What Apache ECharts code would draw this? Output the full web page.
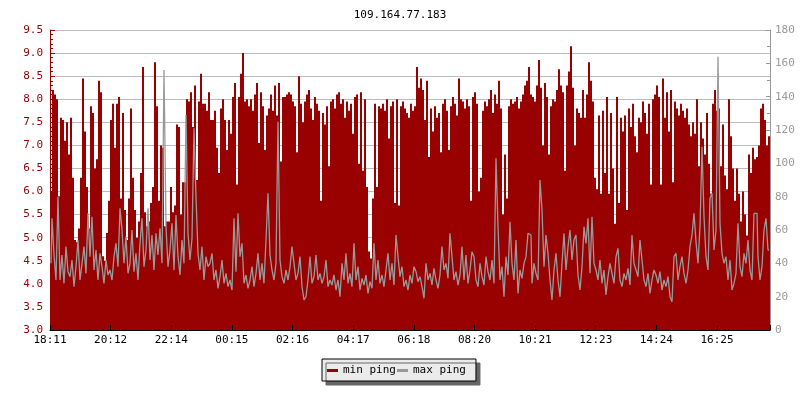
<!DOCTYPE html>
<html>
<head>
<meta charset="utf-8">
<script src="https://cdn.jsdelivr.net/npm/echarts@6/dist/echarts.min.js"></script>
<style>html,body{margin:0;padding:0;background:#fff}#c{width:800px;height:400px}</style>
</head>
<body>
<div id="c"></div>
<script>
// Tick labels of the time axis (start 18:11, one label about every 121 min)
const TIME_LABELS = ['18:11','20:12','22:14','00:15','02:16','04:17','06:18','08:20','10:21','12:23','14:24','16:25'];
const SPAN_MINUTES = 1440;
const LABEL_STEP = 1334 / 11;

// min ping (ms, left axis) — one sample every 4 minutes
const MIN_PING = [
 6.0, 8.2, 8.1, 8.0, 5.9, 7.6, 7.55, 7.1, 7.5, 6.8,
 7.6, 6.3, 4.95, 4.9, 5.2, 6.3, 8.45, 7.3, 6.1, 5.2,
 7.85, 7.7, 6.5, 6.7, 8.4, 8.15, 4.6, 4.5, 5.1, 5.8,
 7.55, 7.9, 6.95, 7.9, 8.05, 5.85, 7.7, 5.6, 4.95, 5.85,
 7.8, 6.3, 5.6, 5.0, 5.35, 6.4, 8.7, 5.55, 5.25, 5.35,
 5.75, 6.1, 8.8, 7.85, 5.8, 7.0, 6.95, 5.25, 5.35, 5.35,
 6.1, 5.55, 5.7, 7.45, 7.4, 5.5, 6.2, 6.2, 8.0, 7.95,
 8.15, 7.4, 8.3, 6.25, 7.95, 8.55, 7.9, 7.9, 7.75, 8.15,
 7.55, 7.55, 7.75, 6.95, 6.4, 7.8, 8.0, 7.55, 6.9, 7.55,
 7.25, 8.05, 8.35, 6.15, 8.05, 8.55, 9.0, 7.95, 8.0, 7.85,
 8.0, 7.75, 8.1, 8.35, 7.05, 8.15, 7.85, 6.9, 7.65, 7.8,
 8.1, 7.75, 8.3, 7.65, 8.35, 6.65, 8.05, 8.05, 8.1, 8.15,
 8.1, 7.95, 7.85, 6.85, 8.5, 7.9, 7.5, 7.95, 8.1, 8.2,
 7.8, 7.55, 8.05, 7.9, 7.75, 5.8, 7.7, 7.45, 7.85, 6.55,
 7.95, 8.0, 7.8, 8.1, 8.15, 7.9, 8.0, 7.6, 7.95, 7.75,
 7.9, 7.25, 8.05, 8.1, 6.6, 8.15, 6.45, 8.0, 6.1, 4.7,
 4.55, 5.85, 7.9, 6.1, 7.85, 7.8, 7.9, 7.75, 8.0, 7.15,
 7.85, 7.95, 5.75, 8.0, 5.7, 7.85, 7.95, 7.8, 7.7, 7.6,
 7.9, 7.75, 7.85, 8.7, 8.25, 8.45, 8.2, 7.55, 8.4, 6.75,
 7.8, 7.3, 7.85, 7.6, 7.7, 6.85, 7.9, 8.0, 7.75, 6.9,
 7.85, 8.05, 7.9, 7.65, 8.45, 8.0, 7.95, 7.8, 8.0, 7.85,
 5.8, 8.05, 8.15, 7.9, 6.0, 6.3, 7.75, 7.95, 7.85, 8.0,
 8.2, 7.7, 8.1, 7.9, 8.4, 7.8, 5.5, 6.8, 5.85, 7.85,
 8.0, 7.9, 7.95, 8.05, 7.8, 7.95, 8.1, 8.3, 8.4, 8.7,
 8.1, 8.05, 7.95, 8.3, 8.85, 8.25, 7.0, 8.35, 8.05, 6.8,
 7.85, 8.0, 7.95, 8.2, 8.65, 8.3, 8.15, 6.45, 8.3, 8.6,
 9.15, 8.25, 7.0, 7.8, 7.7, 7.6, 8.2, 7.6, 8.1, 8.8,
 8.4, 7.95, 6.3, 6.05, 7.65, 5.95, 7.75, 6.4, 8.05, 5.95,
 7.7, 6.5, 5.3, 8.05, 5.75, 7.6, 7.3, 7.65, 5.6, 7.8,
 7.4, 7.9, 7.2, 6.85, 7.6, 7.5, 7.95, 7.7, 7.25, 7.9,
 6.15, 8.0, 8.1, 8.3, 8.05, 6.15, 8.45, 7.6, 8.15, 7.3,
 8.2, 6.2, 7.95, 7.8, 7.65, 7.9, 7.75, 7.6, 7.8, 7.45,
 7.2, 7.5, 7.25, 8.0, 6.55, 7.5, 7.15, 6.8, 7.7, 6.6,
 5.95, 7.9, 8.2, 7.75, 7.8, 6.55, 7.45, 6.35, 6.05, 8.0,
 7.2, 6.5, 5.8, 6.5, 5.95, 5.35, 6.0, 5.5, 5.05, 6.8,
 6.4, 6.95, 6.7, 6.75, 7.0, 7.8, 7.9, 7.55, 7.0, 7.2
];

// max ping (ms, right axis)
const MAX_PING = [
 40, 67, 45, 30, 80, 30, 45, 28, 50, 35,
 32, 42, 26, 38, 54, 30, 40, 50, 34, 70,
 44, 68, 36, 48, 30, 46, 38, 28, 42, 33,
 36, 30, 44, 52, 38, 73, 60, 40, 56, 34,
 40, 60, 35, 46, 30, 52, 67, 38, 48, 73,
 42, 57, 36, 58, 45, 61, 40, 156, 62, 38,
 48, 64, 36, 69, 44, 33, 54, 40, 129, 58,
 42, 55, 121, 80, 46, 36, 50, 30, 44, 38,
 40, 46, 30, 36, 25, 32, 42, 28, 34, 26,
 30, 24, 67, 35, 70, 44, 52, 28, 33, 25,
 30, 38, 26, 34, 46, 30, 40, 28, 54, 82,
 45, 36, 30, 40, 125, 42, 32, 28, 36, 30,
 38, 50, 40, 30, 34, 44, 26, 18, 20, 30,
 44, 28, 32, 45, 30, 34, 28, 32, 42, 26,
 30, 27, 33, 24, 30, 20, 40, 30, 46, 28,
 34, 26, 52, 30, 38, 24, 31, 27, 33, 22,
 29, 25, 52, 30, 42, 28, 33, 26, 36, 46,
 30, 40, 27, 57, 44, 32, 38, 26, 30, 24,
 33, 28, 38, 35, 29, 32, 26, 19, 40, 30,
 34, 27, 37, 30, 25, 33, 50, 36, 40, 31,
 58, 44, 30, 35, 27, 33, 50, 30, 45, 28,
 36, 47, 44, 30, 26, 40, 32, 27, 44, 35,
 30, 42, 28, 103, 62, 30, 38, 20, 44, 33,
 65, 40, 30, 54, 22, 36, 31, 40, 44, 58,
 57, 28, 40, 34, 30, 90, 72, 38, 57, 46,
 30, 18, 36, 46, 30, 20, 40, 58, 36, 50,
 60, 42, 54, 57, 33, 24, 38, 62, 52, 67,
 34, 68, 40, 36, 30, 42, 28, 36, 21, 32,
 40, 34, 28, 44, 49, 30, 26, 34, 30, 37,
 27, 57, 40, 36, 32, 54, 42, 30, 26, 34,
 22, 30, 36, 33, 28, 35, 24, 30, 26, 32,
 20, 17, 44, 46, 30, 38, 44, 34, 28, 36,
 50, 57, 70, 53, 40, 62, 110, 68, 44, 36,
 79, 82, 48, 60, 164, 64, 46, 40, 44, 30,
 42, 24, 28, 34, 64, 38, 32, 46, 40, 54,
 36, 30, 70, 70, 44, 30, 38, 60, 67, 48
];

const SERIES_NAMES = ['min ping', 'max ping'];
const TITLE = '109.164.77.183';

const FONT = 'DejaVu Sans Mono';
const RED = '#990000';
const GRAY = '#999999';

const categories = MIN_PING.map((_, i) => i);

const chart = echarts.init(document.getElementById('c'), null, {renderer: 'canvas'});
chart.setOption({
  animation: false,
  backgroundColor: '#fff',
  title: {
    text: TITLE, left: 'center', top: 5,
    textStyle: {fontFamily: FONT, fontSize: 11, fontWeight: 'normal', color: '#000'}
  },
  legend: {
    data: [
      {name: SERIES_NAMES[0], itemStyle: {color: RED}},
      {name: SERIES_NAMES[1], itemStyle: {color: GRAY}}
    ],
    left: 322, top: 359,
    icon: 'rect', itemWidth: 11, itemHeight: 3, itemGap: 1,
    padding: [6, 10, 5, 5],
    backgroundColor: '#ebebeb', borderColor: '#000', borderWidth: 1,
    shadowColor: '#666', shadowBlur: 0, shadowOffsetX: 4, shadowOffsetY: 4,
    textStyle: {fontFamily: FONT, fontSize: 11, color: '#000'}
  },
  grid: {left: 50, right: 30, top: 30, bottom: 70, containLabel: false},
  xAxis: [
    {type: 'category', data: categories, show: false, boundaryGap: true},
    {
      type: 'value', min: 0, max: SPAN_MINUTES, interval: LABEL_STEP, position: 'bottom', z: 10,
      axisLine: {show: true, lineStyle: {color: '#000', width: 1}},
      axisTick: {show: true, inside: true, length: 5, lineStyle: {color: '#000'}},
      axisLabel: {
        margin: 5, color: '#000', fontFamily: FONT, fontSize: 11,
        formatter: v => { const k = Math.round(v / LABEL_STEP); return (Math.abs(k * LABEL_STEP - v) < 0.5 && TIME_LABELS[k]) ? TIME_LABELS[k] : ''; }
      },
      splitLine: {show: false}
    }
  ],
  yAxis: [
    {
      type: 'value', min: 3, max: 9.5, interval: 0.5, position: 'left',
      axisLine: {show: true, lineStyle: {color: RED}},
      axisTick: {show: true, inside: true, length: 5, lineStyle: {color: RED}},
      minorTick: {show: true, splitNumber: 5, length: 3, lineStyle: {color: RED}},
      axisLabel: {margin: 7, color: RED, fontFamily: FONT, fontSize: 11, formatter: v => v.toFixed(1)},
      splitLine: {show: true, lineStyle: {color: '#bbbbbb', width: 1}}
    },
    {
      type: 'value', min: 0, max: 180, interval: 20, position: 'right',
      axisLine: {show: true, lineStyle: {color: GRAY}},
      axisTick: {show: true, inside: true, length: 4, lineStyle: {color: GRAY}},
      minorTick: {show: true, splitNumber: 2, length: 3, lineStyle: {color: GRAY}},
      axisLabel: {margin: 5, color: GRAY, fontFamily: FONT, fontSize: 11},
      splitLine: {show: false}
    }
  ],
  series: [
    {
      name: SERIES_NAMES[0], type: 'bar', xAxisIndex: 0, yAxisIndex: 0,
      data: MIN_PING, barCategoryGap: '0%', barGap: '0%',
      itemStyle: {color: RED}, clip: true, silent: true
    },
    {
      name: SERIES_NAMES[1], type: 'line', xAxisIndex: 0, yAxisIndex: 1,
      data: MAX_PING, showSymbol: false, symbol: 'none', step: 'middle',
      lineStyle: {color: GRAY, width: 1.3}, itemStyle: {color: GRAY}, silent: true
    }
  ]
});
</script>
</body>
</html>
